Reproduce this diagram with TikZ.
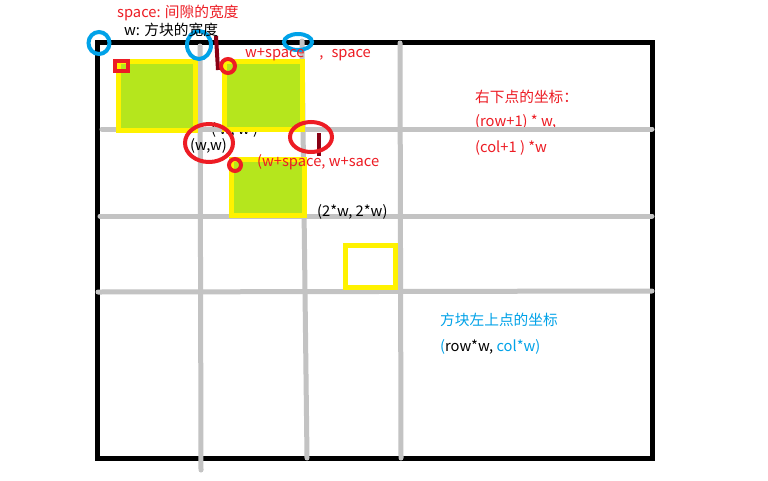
\documentclass[tikz,border=0pt]{standalone}
\usepackage{fontspec}
\setmainfont{Noto Sans CJK SC}
\definecolor{pred}{RGB}{237,28,36}
\definecolor{pdark}{RGB}{136,0,21}
\definecolor{pblue}{RGB}{0,162,232}
\definecolor{pgray}{RGB}{195,195,195}
\definecolor{pyellow}{RGB}{255,242,0}
\definecolor{plime}{RGB}{181,230,29}
\tikzset{
  gridline/.style={draw=pgray,line width=5pt,line cap=round},
  block/.style={draw=pyellow,fill=plime,line width=5pt},
  hole/.style={draw=pyellow,line width=5pt},
  bluering/.style={draw=pblue,line width=4pt},
  redring/.style={draw=pred,line width=4pt},
  darkmark/.style={draw=pdark,line width=4pt},
  lbl/.style={anchor=west,inner sep=0pt,font=\fontsize{14.7}{16}\selectfont},
}
\begin{document}
\begin{tikzpicture}[x=1pt,y=-1pt]
\useasboundingbox (0,0) rectangle (768,480);
\fill[white] (0,0) rectangle (768,480);
% frame
\draw[line width=5pt] (97,42) rectangle (652,458);
% texts that sit under the grid lines
\node[lbl,text=black] (ww0) at (211,130) {( w, w )};
\node[lbl,text=pred] (br1) at (475,122) {(row+1) * w,};
% grid lines
\draw[gridline] (102,129) -- (652,129);
\draw[gridline] (100,216) -- (652,216);
\draw[gridline] (98,292) -- (652,291);
\draw[gridline] (200,46) -- (201,470);
\draw[gridline] (302,41) -- (307,458);
\draw[gridline] (400,43) -- (401,458);
% blocks
\draw[block] (118,61) rectangle (195,130);
\draw[block] (224.5,61) rectangle (302.5,129.5);
\draw[block] (231.5,159.5) rectangle (304.5,215.5);
\draw[hole] (345.5,245.5) rectangle (395.5,287.5);
% marks
\draw[draw=pred,line width=4pt] (115,61) rectangle (128,71);
\draw[bluering] (99,43) circle [x radius=10.5,y radius=11];
\draw[bluering] (199,45) circle [x radius=12,y radius=14];
\draw[bluering] (298,42) circle [x radius=14,y radius=8];
\draw[darkmark] (216,36) -- (218,70);
\draw[darkmark] (319,133) -- (319,156);
\draw[redring] (228,66) circle [radius=7];
\draw[redring] (209,143) circle [x radius=24,y radius=19];
\draw[redring] (311,137) circle [x radius=21,y radius=15];
\draw[redring] (235,165) circle [radius=6];
% labels
\node[lbl,text=pred] (sp) at (117,13) {space: 间隙的宽度};
\node[lbl,text=black] (wl) at (124,30) {w: 方块的宽度};
\node[lbl,text=pred] (wsp) at (245,55) {w+space\hspace{15pt},\hspace{8pt}space};
\node[lbl,text=black] (ww) at (190,146) {(w,w)};
\node[lbl,text=pred] (wss) at (257,162) {(w+space, w+sace};
\node[lbl,text=black] (w2) at (317,212) {(2*w, 2*w)};
\node[lbl,text=pred] (br0) at (475,97) {右下点的坐标：};
\node[lbl,text=pred] (br2) at (475,148) {(col+1 ) *w};
\node[lbl,text=pblue] (tl0) at (440,320) {方块左上点的坐标};
\node[lbl,text=black] (tl1) at (440,347) {\textcolor{pblue}{(}row*w, \textcolor{pblue}{col*w)}};
\end{tikzpicture}
\end{document}
